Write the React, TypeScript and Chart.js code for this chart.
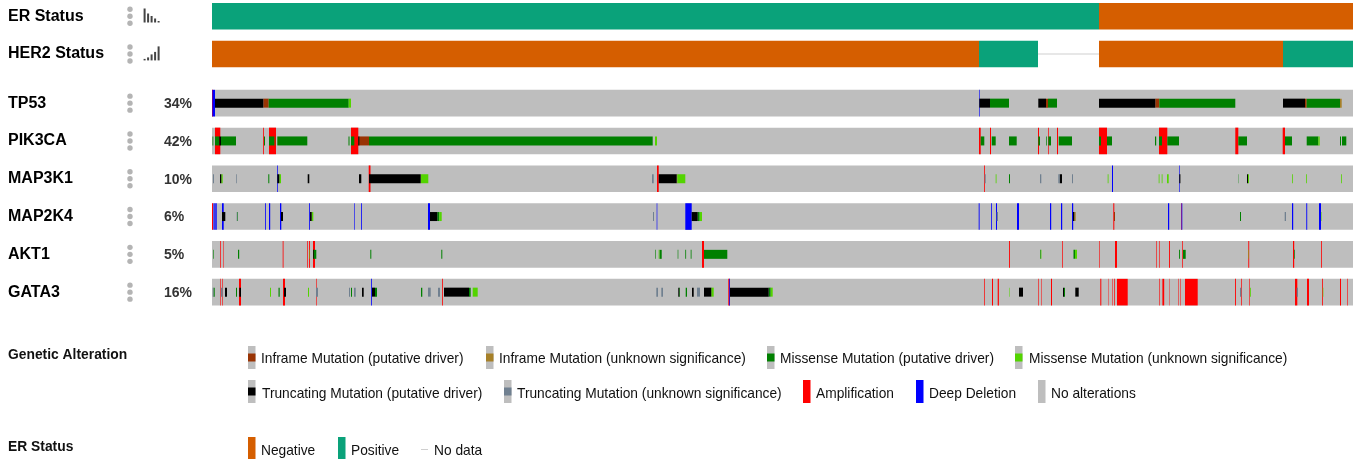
import React, { useEffect, useRef } from "react";
import { Chart, registerables } from "chart.js";

Chart.register(...registerables);

type Span = [number, number];
type Track = Record<string, Span[]>;

const trackLabels = ["ER Status", "HER2 Status", "TP53", "PIK3CA", "MAP3K1", "MAP2K4", "AKT1", "GATA3"];
const trackRows = [0, 1, 2.3, 3.3, 4.3, 5.3, 6.3, 7.3];
const genePercents = ["34%", "42%", "10%", "6%", "5%", "16%"];
const SAMPLE_COUNT = 1141;

const erNegative: Span[] = [[887, 1141]];
const erPositive: Span[] = [[0, 887]];
const her2Negative: Span[] = [[0, 767], [887, 1071]];
const her2Positive: Span[] = [[767, 826], [1071, 1141]];
const her2NoData: Span[] = [[826, 887]];

const amplification: Track = {
  TP53: [[0, 1]],
  PIK3CA: [[3, 8.3], [51, 51.8], [57, 64], [139, 146.3], [767, 768.7], [778, 779], [826, 827], [836.3, 837], [845, 846], [887, 895], [947, 955.3], [1023.3, 1026.3], [1070.7, 1073]],
  MAP3K1: [[156.7, 158.5], [445, 446.7], [772, 772.8]],
  MAP2K4: [[0, 1], [901.3, 902.3], [969, 969.7]],
  AKT1: [[8, 8.7], [11.3, 11.8], [70.7, 71.5], [95.3, 96], [97, 97.9], [101, 103], [490, 492], [797, 797.9], [850, 850.7], [887, 887.6], [903, 905], [944, 944.6], [947, 947.6], [957, 957.9], [970, 970.7], [1036.3, 1037.2], [1081, 1082.2], [1109, 1109.8]],
  GATA3: [[8, 8.6], [10, 10.6], [27, 29], [71, 73], [104, 104.6], [230, 230.8], [516.3, 517.7], [772, 772.7], [780, 781], [785.7, 786.9], [826, 826.6], [829, 829.5], [839, 840], [888.3, 889.3], [896, 896.4], [900, 900.5], [902, 902.7], [905, 915.7], [947, 947.6], [950.4, 952.2], [957, 957.4], [966, 966.5], [968, 968.5], [973, 985.7], [1023, 1023.9], [1029, 1029.7], [1037, 1037.6], [1083, 1085.3], [1095, 1097], [1110, 1110.8], [1128, 1129], [1135, 1135.6]],
};

const deepDeletion: Track = {
  TP53: [[0.4, 3], [767, 767.6]],
  MAP3K1: [[65.2, 65.9], [900, 901], [967, 967.6]],
  MAP2K4: [[1.5, 2.7], [3.3, 4.7], [10, 11.7], [53, 53.8], [57, 58.2], [68, 69.3], [97, 97.8], [142, 142.6], [149, 149.8], [216, 218], [444.7, 445.3], [473.3, 479.7], [766.7, 767.6], [779, 779.8], [784, 785], [805, 807], [838, 839.2], [849, 850.2], [860, 861.2], [956, 957.2], [969.5, 970.3], [1080, 1081.2], [1094.3, 1095.2], [1107, 1109]],
  GATA3: [[159, 159.8], [517.3, 518]],
};

const inframeDriver: Track = {
  TP53: [[51.3, 56.7], [834, 836], [943.3, 947.3], [1093, 1094.7]],
  PIK3CA: [[62, 63.5], [146.3, 157]],
  MAP3K1: [[464.7, 465.3]],
  MAP2K4: [[902, 903]],
};

const inframeUnknown: Track = {
  TP53: [[1128, 1129.7]],
  MAP2K4: [[862.3, 863.7]],
};

const missenseDriver: Track = {
  TP53: [[56.7, 136.7], [778, 797], [836, 845], [947.3, 1023.3], [1094.7, 1128]],
  PIK3CA: [[0.5, 1.3], [3, 7.3], [9, 24], [52, 53], [57, 62], [65.3, 95.3], [136.5, 137.5], [139, 142.3], [157, 440.7], [768.7, 772.3], [779.7, 783.7], [797, 804.7], [826.3, 828], [834, 834.7], [836.3, 839], [846.7, 860], [887, 889], [895, 900], [943, 944.2], [947, 950], [955.3, 967], [1026.3, 1035], [1073, 1080], [1094.7, 1106.3], [1128, 1129], [1130, 1134.3]],
  MAP3K1: [[56.3, 57.3], [797, 798], [1026.7, 1027]],
  MAP2K4: [[25.3, 26], [225.3, 227.3], [485.7, 487.7], [1028, 1029]],
  AKT1: [[1, 1.6], [26, 27.2], [101.3, 104.3], [158.3, 159.3], [229.3, 230.3], [443, 443.6], [447.5, 449.7], [465.7, 466.3], [473.3, 474.1], [478.7, 479.5], [492, 515.3], [828.3, 829], [861.5, 863], [967, 967.9], [971, 973.7], [1082, 1082.7]],
  GATA3: [[1.5, 2.7], [24, 25], [66.5, 67.7], [139, 140], [163, 165], [209, 210.3], [257, 258.7], [467.3, 468], [473.7, 475], [556.7, 558.7], [852, 853]],
};

const missenseUnknown: Track = {
  TP53: [[136.7, 139]],
  PIK3CA: [[443, 445], [1106.3, 1107.7]],
  MAP3K1: [[9.3, 10.7], [67.3, 69], [208.7, 216.3], [465.3, 473.3], [783.7, 784.5], [895.7, 896.5], [946.7, 947.5], [949.7, 950.5], [955, 956.7], [1036, 1037], [1080, 1080.8], [1094, 1094.8], [1129, 1129.8]],
  MAP2K4: [[99.7, 101.3], [227.3, 229.7], [487.7, 490], [1109, 1109.5]],
  AKT1: [[97.5, 98], [446.7, 447.3], [828.8, 829.4], [863, 865], [1036.3, 1036.7]],
  GATA3: [[58, 59], [96, 97], [260.7, 265.7], [499.3, 501.7], [558.7, 560.7], [797, 797.5], [1038, 1038.8], [1110.8, 1111.3]],
};

const truncatingDriver: Track = {
  TP53: [[3, 51.3], [767.3, 778], [826.3, 834], [887, 943.3], [1071, 1093]],
  PIK3CA: [[7.3, 9], [146.3, 147.3]],
  MAP3K1: [[8, 9.3], [65.3, 67.3], [95.7, 97.3], [147, 149.3], [157, 208.7], [446.7, 464.7], [847.7, 850], [967.3, 968.4], [1035, 1036]],
  MAP2K4: [[10, 13.3], [69, 71], [98, 99.7], [218, 225.3], [479.7, 485.7], [861, 862.3]],
  AKT1: [[101.3, 102]],
  GATA3: [[13, 15], [27.3, 29], [72, 74], [150, 151.7], [160, 163], [232, 257], [466.3, 467.3], [480, 481.7], [492, 499.3], [518, 556.7], [807, 811], [851, 852], [863.3, 866.7]],
};

const truncatingUnknown: Track = {
  MAP3K1: [[1, 2], [24, 24.7], [440, 441.7], [772.7, 773.7], [828, 829.3], [846.3, 847.7], [860, 861]],
  MAP2K4: [[24.7, 25.3], [441, 442], [784.7, 786], [1072.7, 1074]],
  GATA3: [[0.7, 1.5], [9, 10.7], [104, 106], [137, 138], [142, 143.7], [216, 218.7], [226, 228], [444.3, 446], [449.3, 451], [485, 488], [1028, 1029.3], [1084.7, 1086]],
};

const alterationColors = {
  inframeDriver: "#993404",
  inframeUnknown: "#a68028",
  missenseDriver: "#008000",
  missenseUnknown: "#53d400",
  truncatingDriver: "#000000",
  truncatingUnknown: "#708090",
  amplification: "#ff0000",
  deepDeletion: "#0000ff",
  noAlteration: "#bebebe",
  negative: "#d55e00",
  positive: "#0aa27a",
  noData: "#cfcfcf",
};

const legendRowOne = ["Inframe Mutation (putative driver)", "Inframe Mutation (unknown significance)", "Missense Mutation (putative driver)", "Missense Mutation (unknown significance)"];
const legendRowTwo = ["Truncating Mutation (putative driver)", "Truncating Mutation (unknown significance)", "Amplification", "Deep Deletion", "No alterations"];
const legendRowThree = ["Negative", "Positive", "No data"];
const legendTitles = ["Genetic Alteration", "ER Status"];

const erHistogram = [14, 9, 6.5, 4, 1.5];
const her2Histogram = [1.5, 3, 6, 8.5, 14];

const FONT = '"Liberation Sans", Arial, Helvetica, sans-serif';

function trackData(track: Track) {
  return Object.entries(track).flatMap(([gene, spans]) =>
    spans.map((s) => ({ x: s, y: trackRows[trackLabels.indexOf(gene)] }))
  );
}

function onRow(label: string, spans: Span[]) {
  return spans.map((s) => ({ x: s, y: trackRows[trackLabels.indexOf(label)] }));
}

const overlayPlugin = {
  id: "oncoprintOverlay",
  afterDraw(chart: any) {
    const { ctx } = chart;
    const yScale = chart.scales.y;
    const c = alterationColors;
    ctx.save();
    ctx.textBaseline = "middle";
    ctx.textAlign = "left";

    trackRows.forEach((row) => {
      const cy = yScale.getPixelForValue(row);
      ctx.fillStyle = "#b4b4b4";
      [-7, 0, 7].forEach((d) => {
        ctx.beginPath();
        ctx.arc(130, cy + d, 2.7, 0, Math.PI * 2);
        ctx.fill();
      });
    });

    const drawHist = (heights: number[], baseline: number) => {
      ctx.fillStyle = "#444444";
      heights.forEach((h, i) => ctx.fillRect(143.6 + i * 3.5, baseline - h, 2, h));
    };
    drawHist(erHistogram, 22.5);
    drawHist(her2Histogram, 60.4);

    ctx.font = `bold 14px ${FONT}`;
    ctx.fillStyle = "#333333";
    genePercents.forEach((p, i) => {
      ctx.fillText(p, 164, yScale.getPixelForValue(trackRows[i + 2]) + 1);
    });

    ctx.font = `bold 13.85px ${FONT}`;
    ctx.fillStyle = "#111111";
    ctx.fillText(legendTitles[0], 8, 355);
    ctx.fillText(legendTitles[1], 8, 447);

    ctx.font = `13.75px ${FONT}`;
    const glyph = (x: number, top: number, h: number, color: string, inner?: string) => {
      ctx.fillStyle = color;
      ctx.fillRect(x, top, 7.5, h);
      if (inner) {
        ctx.fillStyle = inner;
        ctx.fillRect(x, top + h / 2 - 4, 7.5, 8);
      }
    };
    const item = (text: string, tx: number, cy: number) => {
      ctx.fillStyle = "#111111";
      ctx.fillText(text, tx, cy);
    };
    const r1 = [[248, 261], [486, 499], [767, 780], [1015, 1029]];
    const r1c = [c.inframeDriver, c.inframeUnknown, c.missenseDriver, c.missenseUnknown];
    legendRowOne.forEach((t, i) => {
      glyph(r1[i][0], 346, 23, c.noAlteration, r1c[i]);
      item(t, r1[i][1], 359);
    });
    const r2 = [[248, 262], [504, 517], [803, 816], [916, 929], [1038, 1051]];
    legendRowTwo.forEach((t, i) => {
      if (i < 2) glyph(r2[i][0], 380, 23, c.noAlteration, i === 0 ? c.truncatingDriver : c.truncatingUnknown);
      else glyph(r2[i][0], 380, 23, [c.amplification, c.deepDeletion, c.noAlteration][i - 2]);
      item(t, r2[i][1], 394);
    });
    const r3 = [[248, 261], [338, 351], [421, 434]];
    legendRowThree.forEach((t, i) => {
      if (i < 2) glyph(r3[i][0], 437, 22, i === 0 ? c.negative : c.positive);
      else {
        ctx.fillStyle = c.noData;
        ctx.fillRect(421, 449, 7, 1);
      }
      item(t, r3[i][1], 451);
    });
    ctx.restore();
  },
};

export default function App() {
  const ref = useRef<HTMLCanvasElement | null>(null);
  useEffect(() => {
    document.body.style.margin = "0";
    document.body.style.overflow = "hidden";
    const c = alterationColors;
    const full = 26.6;
    const mut = 9;
    const ds = (label: string, data: any[], color: string, thickness: number, order: number) => ({
      label,
      data,
      backgroundColor: color,
      borderWidth: 0,
      barThickness: thickness,
      inflateAmount: 0,
      order,
    });
    const geneBackground = trackLabels.slice(2).flatMap((g) => onRow(g, [[0, SAMPLE_COUNT]]));
    const chart = new Chart(ref.current as HTMLCanvasElement, {
      type: "bar",
      data: {
        datasets: [
          ds("No alterations", geneBackground, c.noAlteration, full, 20),
          ds("Amplification", trackData(amplification), c.amplification, full, 12),
          ds("Deep Deletion", trackData(deepDeletion), c.deepDeletion, full, 11),
          ds("Inframe Mutation (putative driver)", trackData(inframeDriver), c.inframeDriver, mut, 6),
          ds("Inframe Mutation (unknown significance)", trackData(inframeUnknown), c.inframeUnknown, mut, 5),
          ds("Missense Mutation (putative driver)", trackData(missenseDriver), c.missenseDriver, mut, 4),
          ds("Missense Mutation (unknown significance)", trackData(missenseUnknown), c.missenseUnknown, mut, 3),
          ds("Truncating Mutation (putative driver)", trackData(truncatingDriver), c.truncatingDriver, mut, 2),
          ds("Truncating Mutation (unknown significance)", trackData(truncatingUnknown), c.truncatingUnknown, mut, 1),
          ds("Negative", [...onRow("ER Status", erNegative), ...onRow("HER2 Status", her2Negative)], c.negative, full, 15),
          ds("Positive", [...onRow("ER Status", erPositive), ...onRow("HER2 Status", her2Positive)], c.positive, full, 15),
          ds("No data", onRow("HER2 Status", her2NoData), c.noData, 1, 15),
        ] as any,
      },
      options: {
        indexAxis: "y",
        responsive: false,
        animation: false,
        events: [],
        layout: { padding: { left: 8, right: 5, top: 0, bottom: 0 } },
        datasets: { bar: { grouped: false } },
        plugins: { legend: { display: false }, tooltip: { enabled: false } },
        scales: {
          x: { type: "linear", min: 0, max: SAMPLE_COUNT, display: false, grid: { display: false } },
          y: {
            type: "linear",
            reverse: true,
            offset: false,
            min: -16.2 / 37.8,
            max: (459 - 16.2) / 37.8,
            grid: { display: false },
            border: { display: false },
            afterBuildTicks: (s: any) => {
              s.ticks = trackRows.map((value) => ({ value }));
            },
            afterFit: (s: any) => {
              s.width = 204;
              s.paddingTop = 0;
              s.paddingBottom = 0;
            },
            ticks: {
              autoSkip: false,
              minRotation: 0,
              maxRotation: 0,
              crossAlign: "far",
              color: "#000000",
              font: { family: FONT, size: 16, weight: "bold" },
              callback: (_v: any, i: number) => trackLabels[i],
            },
          },
        },
      } as any,
      plugins: [overlayPlugin],
    });
    return () => chart.destroy();
  }, []);
  return <canvas ref={ref} width={1358} height={459} style={{ display: "block", filter: "blur(0.4px)" }} />;
}
